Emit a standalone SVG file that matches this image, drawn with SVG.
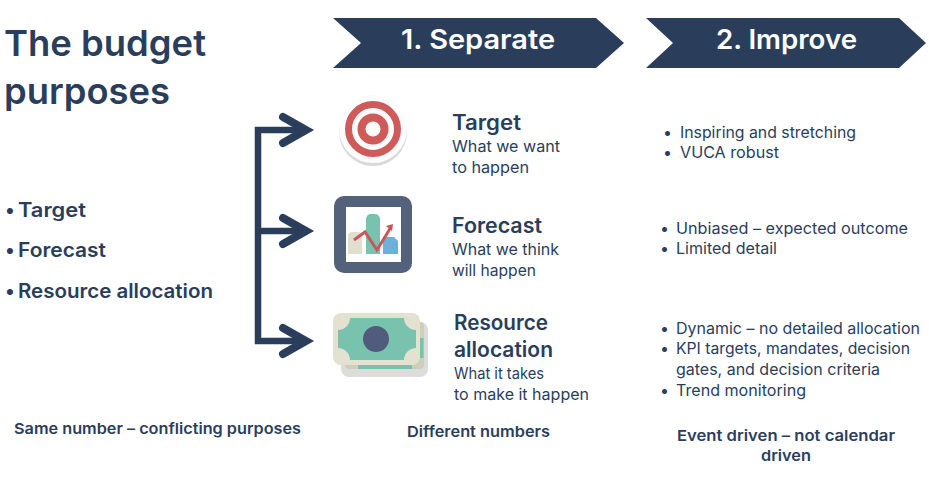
<svg xmlns="http://www.w3.org/2000/svg" width="929" height="489" viewBox="0 0 929 489">
<style>
text{font-family:"Inter","Noto Sans",sans-serif;fill:#2a3e5c}
.h{font-weight:600;font-size:21px}
.b{font-size:16px}
.l{font-weight:600;font-size:19.5px}
.f{font-weight:600;font-size:15px}
.t{font-weight:600;font-size:36px}
.c{font-weight:600;font-size:27px;fill:#fff}
.bar{fill:none;stroke:#2a3e5c;stroke-width:6.5}
.head{fill:none;stroke:#2a3e5c;stroke-width:8;stroke-linecap:round;stroke-linejoin:miter}
</style>
<rect width="929" height="489" fill="#fff"/>
<g id="title"><text class="t" x="4" y="56" textLength="202" lengthAdjust="spacingAndGlyphs">The budget</text><text class="t" x="4" y="104" textLength="166" lengthAdjust="spacingAndGlyphs">purposes</text></g>
<g id="purposes"><text class="l" x="5" y="217">•</text><text class="l" x="18" y="217" textLength="68" lengthAdjust="spacingAndGlyphs">Target</text><text class="l" x="5" y="257">•</text><text class="l" x="18" y="257" textLength="88" lengthAdjust="spacingAndGlyphs">Forecast</text><text class="l" x="5" y="298">•</text><text class="l" x="18" y="298" textLength="195" lengthAdjust="spacingAndGlyphs">Resource allocation</text></g>
<g id="step1"><polygon points="333,18 596,18 624,43 596,68 333,68 361,43" fill="#2a3e5c"/><text class="c" x="401" y="49" textLength="154" lengthAdjust="spacingAndGlyphs">1. Separate</text></g>
<g id="step2"><polygon points="646,18 899,18 926,43 899,68 646,68 673,43" fill="#2a3e5c"/><text class="c" x="716" y="49" textLength="141" lengthAdjust="spacingAndGlyphs">2. Improve</text></g>
<g id="connectors">
<path class="bar" d="M258 127V344M255 130H304M258 231H304M255 341H304"/>
<path class="head" d="M283 117L306 130L283 143M283 218L306 231L283 244M283 328L306 341L283 354"/>
</g>
<g id="icon-target">
<circle cx="373" cy="132" r="34" fill="#d9d9d9"/>
<circle cx="373" cy="129" r="34" fill="#fcfcfc"/>
<circle cx="373" cy="129" r="24.5" fill="none" stroke="#cf5a5a" stroke-width="7"/>
<circle cx="373" cy="129" r="11.5" fill="none" stroke="#cf5a5a" stroke-width="8"/>
</g>
<g id="icon-forecast">
<rect x="334" y="196" width="78" height="77" rx="10" fill="#53627a"/>
<rect x="346" y="207" width="55" height="55" fill="#fff"/>
<path d="M348 254V236a4 4 0 0 1 4-4H358a4 4 0 0 1 4 4V254z" fill="#e0dfcd"/>
<path d="M366 254V219a5 5 0 0 1 5-5H375a5 5 0 0 1 5 5V254z" fill="#79c2ae"/>
<path d="M383 254V237H394l4 4V254z" fill="#6fb0d6"/>
<path d="M354 240L365 232L377 250L391 227" fill="none" stroke="#c9565a" stroke-width="3"/>
<path d="M386 226L393 224L392 231z" fill="#c9565a"/>
</g>
<g id="icon-money">
<rect x="341" y="322" width="87" height="55" rx="8" fill="#dcdcda"/>
<rect x="345" y="322" width="79" height="47" rx="4" fill="#cfcdbb"/>
<rect x="358" y="365" width="54" height="4" fill="#79c2ae"/>
<rect x="420" y="338" width="3.500" height="20" fill="#79c2ae"/>
<rect x="333" y="313" width="87" height="52" rx="8" fill="#e3e1d0"/>
<path d="M350 318H404A12 12 0 0 0 416 330V348A12 12 0 0 0 404 360H350A12 12 0 0 0 338 348V330A12 12 0 0 0 350 318z" fill="#79c2ae"/>
<circle cx="376" cy="339" r="13" fill="#4f5c7c"/>
</g>
<g id="target-text"><text class="h" x="452" y="130" textLength="69" lengthAdjust="spacingAndGlyphs">Target</text><text class="b" x="452" y="152" textLength="108" lengthAdjust="spacingAndGlyphs">What we want</text><text class="b" x="452" y="173" textLength="77" lengthAdjust="spacingAndGlyphs">to happen</text></g>
<g id="forecast-text"><text class="h" x="452" y="233" textLength="90" lengthAdjust="spacingAndGlyphs">Forecast</text><text class="b" x="452" y="255" textLength="107" lengthAdjust="spacingAndGlyphs">What we think</text><text class="b" x="452" y="276" textLength="84" lengthAdjust="spacingAndGlyphs">will happen</text></g>
<g id="resource-text"><text class="h" x="454" y="330" textLength="94" lengthAdjust="spacingAndGlyphs">Resource</text><text class="h" x="454" y="357" textLength="99" lengthAdjust="spacingAndGlyphs">allocation</text><text class="b" x="454" y="379" textLength="90" lengthAdjust="spacingAndGlyphs">What it takes</text><text class="b" x="454" y="400" textLength="135" lengthAdjust="spacingAndGlyphs">to make it happen</text></g>
<g id="improve-target"><text class="b" x="663" y="138">•</text><text class="b" x="680" y="138" textLength="176" lengthAdjust="spacingAndGlyphs">Inspiring and stretching</text><text class="b" x="663" y="158">•</text><text class="b" x="680" y="158" textLength="99" lengthAdjust="spacingAndGlyphs">VUCA robust</text></g>
<g id="improve-forecast"><text class="b" x="660" y="234">•</text><text class="b" x="676" y="234" textLength="232" lengthAdjust="spacingAndGlyphs">Unbiased – expected outcome</text><text class="b" x="660" y="254">•</text><text class="b" x="676" y="254" textLength="101" lengthAdjust="spacingAndGlyphs">Limited detail</text></g>
<g id="improve-resource"><text class="b" x="660" y="334">•</text><text class="b" x="676" y="334" textLength="244" lengthAdjust="spacingAndGlyphs">Dynamic – no detailed allocation</text><text class="b" x="660" y="354">•</text><text class="b" x="676" y="354" textLength="234" lengthAdjust="spacingAndGlyphs">KPI targets, mandates, decision</text><text class="b" x="676" y="375" textLength="204" lengthAdjust="spacingAndGlyphs">gates, and decision criteria</text><text class="b" x="660" y="396">•</text><text class="b" x="676" y="396" textLength="130" lengthAdjust="spacingAndGlyphs">Trend monitoring</text></g>
<g id="footers"><text class="f" x="14" y="434" textLength="287" lengthAdjust="spacingAndGlyphs">Same number – conflicting purposes</text><text class="f" x="407" y="437" textLength="143" lengthAdjust="spacingAndGlyphs">Different numbers</text><text class="f" x="677" y="441" textLength="218" lengthAdjust="spacingAndGlyphs">Event driven – not calendar</text><text class="f" x="761" y="461" textLength="50" lengthAdjust="spacingAndGlyphs">driven</text></g>
</svg>
